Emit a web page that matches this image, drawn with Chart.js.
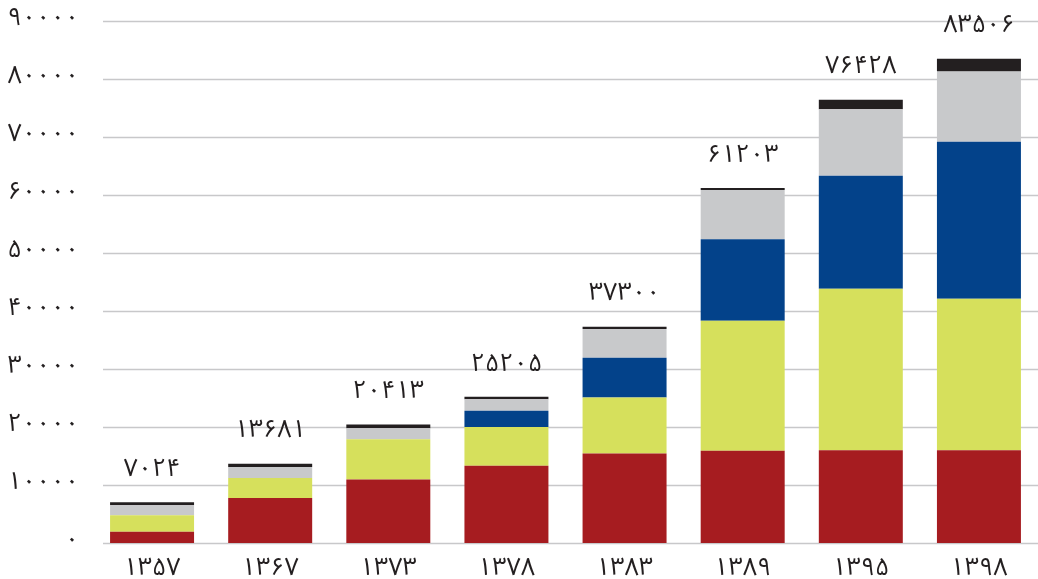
<!DOCTYPE html>
<html>
<head>
<meta charset="utf-8">
<script src="https://cdn.jsdelivr.net/npm/chart.js@4.4.1/dist/chart.umd.min.js"></script>
<style>
  html, body { margin: 0; padding: 0; background: #ffffff; }
  #wrap { width: 1038px; height: 579px; position: relative; }
</style>
</head>
<body>
<div id="wrap"><canvas id="c" width="1038" height="579"></canvas></div>
<script>
const categories = ['۱۳۵۷', '۱۳۶۷', '۱۳۷۳', '۱۳۷۸', '۱۳۸۳', '۱۳۸۹', '۱۳۹۵', '۱۳۹۸'];
const totalLabels = ['۷۰۲۴', '۱۳۶۸۱', '۲۰۴۱۳', '۲۵۲۰۵', '۳۷۳۰۰', '۶۱۲۰۳', '۷۶۴۲۸', '۸۳۵۰۶'];
const yTickLabels = ['۰', '۱۰۰۰۰', '۲۰۰۰۰', '۳۰۰۰۰', '۴۰۰۰۰', '۵۰۰۰۰', '۶۰۰۰۰', '۷۰۰۰۰', '۸۰۰۰۰', '۹۰۰۰۰'];

const seriesRed    = [1950, 7750, 10950, 13300, 15450, 15900, 16000, 16000];
const seriesYellow = [2850, 3450, 6950, 6700, 9650, 22400, 27850, 26100];
const seriesBlue   = [0, 0, 0, 2800, 6850, 14050, 19450, 27100];
const seriesGray   = [1700, 1900, 1900, 2000, 4950, 8500, 11500, 12100];
const seriesBlack  = [524, 581, 613, 405, 400, 353, 1628, 2206];

const FONT = "'Noto Sans Arabic', 'Noto Naskh Arabic', 'DejaVu Sans', sans-serif";
const TEXT_COLOR = '#231f20';
const FONT_SIZE = 25;

const gridPlugin = {
  id: 'customGrid',
  beforeDatasetsDraw(chart) {
    const ctx = chart.ctx;
    const y = chart.scales.y;
    const area = chart.chartArea;
    ctx.save();
    ctx.strokeStyle = '#c8c8ca';
    ctx.lineWidth = 1.5;
    y.ticks.forEach(t => {
      const py = Math.round(y.getPixelForValue(t.value)) + 0.5;
      ctx.beginPath();
      ctx.moveTo(area.left + 10, py);
      ctx.lineTo(area.right, py);
      ctx.stroke();
    });
    ctx.restore();
  }
};

const totalsPlugin = {
  id: 'totals',
  afterDatasetsDraw(chart) {
    const ctx = chart.ctx;
    const n = chart.data.datasets.length;
    const lastMeta = chart.getDatasetMeta(n - 1);
    ctx.save();
    ctx.font = FONT_SIZE + "px " + FONT;
    ctx.fillStyle = TEXT_COLOR;
    ctx.textAlign = 'center';
    ctx.textBaseline = 'middle';
    lastMeta.data.forEach((bar, i) => {
      ctx.fillText(totalLabels[i], bar.x, bar.y - 30);
    });
    ctx.restore();
  }
};

new Chart(document.getElementById('c'), {
  type: 'bar',
  data: {
    labels: categories,
    datasets: [
      { data: seriesRed, backgroundColor: '#a61c20' },
      { data: seriesYellow, backgroundColor: '#d6e05c' },
      { data: seriesBlue, backgroundColor: '#03428a' },
      { data: seriesGray, backgroundColor: '#c8c9cb' },
      { data: seriesBlack, backgroundColor: '#231f20' }
    ]
  },
  options: {
    responsive: false,
    animation: false,
    devicePixelRatio: 1,
    layout: { padding: { top: 21, right: 0, bottom: 0, left: 0 } },
    datasets: {
      bar: { categoryPercentage: 1.0, barPercentage: 0.711, borderWidth: 0 }
    },
    plugins: {
      legend: { display: false },
      tooltip: { enabled: false }
    },
    scales: {
      x: {
        stacked: true,
        grid: { display: false, drawTicks: false },
        border: { display: false },
        ticks: {
          color: TEXT_COLOR,
          font: { family: FONT, size: FONT_SIZE },
          padding: 13,
          maxRotation: 0
        },
        afterFit(scale) { scale.height = 36; }
      },
      y: {
        stacked: true,
        min: 0,
        max: 90000,
        grid: { display: false, drawTicks: false },
        border: { display: false },
        ticks: {
          stepSize: 10000,
          color: TEXT_COLOR,
          font: { family: FONT, size: FONT_SIZE },
          padding: 14,
          callback: (v) => yTickLabels[Math.round(v / 10000)]
        },
        afterFit(scale) {
          scale.width = 93;
          scale.paddingTop = 0;
          scale.paddingBottom = 0;
        }
      }
    }
  },
  plugins: [gridPlugin, totalsPlugin]
});
</script>
</body>
</html>
